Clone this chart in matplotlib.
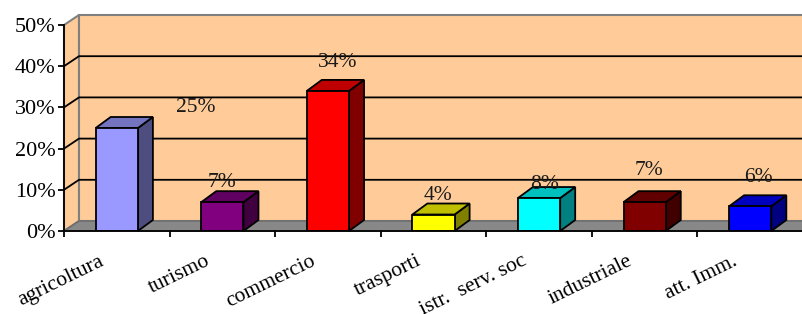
import matplotlib
matplotlib.use("Agg")
import matplotlib.pyplot as plt
from matplotlib.patches import Polygon
from matplotlib.colors import to_rgb
import numpy as np

# Data
categories = ['agricoltura', 'turismo', 'commercio', 'trasporti',
              'istr.  serv. soc', 'industriale', 'att. Imm.']
values = [25, 7, 34, 4, 8, 7, 6]
bar_colors = ['#9999FF', '#800080', '#FF0000', '#FFFF00', '#00FFFF', '#800000', '#0000FF']
y_ticks = [0, 10, 20, 30, 40, 50]
y_labels = ['0%', '10%', '20%', '30%', '40%', '50%']
# where Excel dropped the value labels (x shift in categories, lift above bar in %)
label_shift = [0.75, 0.0, 0.095, 0.04, 0.05, 0.04, 0.08]
label_lift = [4.9, 4.7, 7.0, 4.5, 3.4, 7.6, 7.1]

W, H = 803, 314
FONT = 'Liberation Serif'
WALL = '#FFCC99'
EDGE = '#808080'

fig = plt.figure(figsize=(W / 100, H / 100), dpi=100)
left, bottom, right, top = 64, 231, 803, 25
ax = fig.add_axes([left / W, 1 - bottom / H, (right - left) / W, (bottom - top) / H])
n = len(categories)
ax.set_xlim(0, n)
ax.set_ylim(0, 50)

# pixel -> data conversion for the fake 3d depth
px_x = n / (right - left)
px_y = 50 / (bottom - top)
dx, dy = 15 * px_x, 10 * px_y      # wall depth
bdx, bdy = 15 * px_x, 11 * px_y    # bar depth

# side wall, back wall, floor
side = Polygon([(0, 0), (dx, dy), (dx, 50 + dy), (0, 50)], closed=True,
               facecolor=WALL, edgecolor=EDGE, lw=1.5, zorder=0, clip_on=False)
back = Polygon([(dx, dy), (n + dx, dy), (n + dx, 50 + dy), (dx, 50 + dy)], closed=True,
               facecolor=WALL, edgecolor=EDGE, lw=1.5, zorder=0, clip_on=False)
floor = Polygon([(0, 0), (n, 0), (n + dx, dy), (dx, dy)], closed=True,
                facecolor='#888888', edgecolor='#6E6E6E', lw=1.2, zorder=1, clip_on=False)
for p in (side, back, floor):
    ax.add_patch(p)

# gridlines on side + back wall
for v in y_ticks[1:-1]:
    ax.plot([0, dx, n + dx], [v, v + dy, v + dy], color='black', lw=1.3,
            zorder=0.5, clip_on=False)

# bars
bw = 0.40
centers = np.arange(n) + 0.5
ax.bar(centers, values, width=bw, color=bar_colors, edgecolor='black', lw=1.3, zorder=4)
for c, v, col in zip(centers, values, bar_colors):
    x0, x1 = c - bw / 2, c + bw / 2
    rgb = np.array(to_rgb(col))
    top_face = Polygon([(x0, v), (x1, v), (x1 + bdx, v + bdy), (x0 + bdx, v + bdy)],
                       closed=True, facecolor=rgb * 0.75, edgecolor='black', lw=1.3,
                       zorder=3, clip_on=False)
    side_face = Polygon([(x1, 0), (x1 + bdx, bdy), (x1 + bdx, v + bdy), (x1, v)],
                        closed=True, facecolor=rgb * 0.5, edgecolor='black', lw=1.3,
                        zorder=3, clip_on=False)
    ax.add_patch(side_face)
    ax.add_patch(top_face)

# value labels
for c, v, s, lift in zip(centers, values, label_shift, label_lift):
    ax.text(c + s, v + lift, f'{v}%', ha='center', va='center', fontsize=15.5,
            family=FONT, color='#1A1A1A', zorder=6)

# axes
for sp in ('top', 'right'):
    ax.spines[sp].set_visible(False)
for sp in ('left', 'bottom'):
    ax.spines[sp].set_color('black')
    ax.spines[sp].set_linewidth(1.3)
    ax.spines[sp].set_zorder(5)
ax.set_yticks(y_ticks)
ax.set_yticklabels(y_labels, family=FONT, fontsize=16)
ax.set_xticks(np.arange(n + 1))
ax.set_xticklabels([])
ax.tick_params(axis='both', direction='out', length=4, width=1.3, color='black', pad=2)
ax.set_facecolor('none')

for c, lab in zip(centers, categories):
    ax.annotate(lab, xy=(c - 0.17, 0), xytext=(0, -15), textcoords='offset points',
                ha='right', va='top', rotation=26, rotation_mode='anchor',
                fontsize=15.5, family=FONT, annotation_clip=False)

fig.savefig('out.png', dpi=100)
